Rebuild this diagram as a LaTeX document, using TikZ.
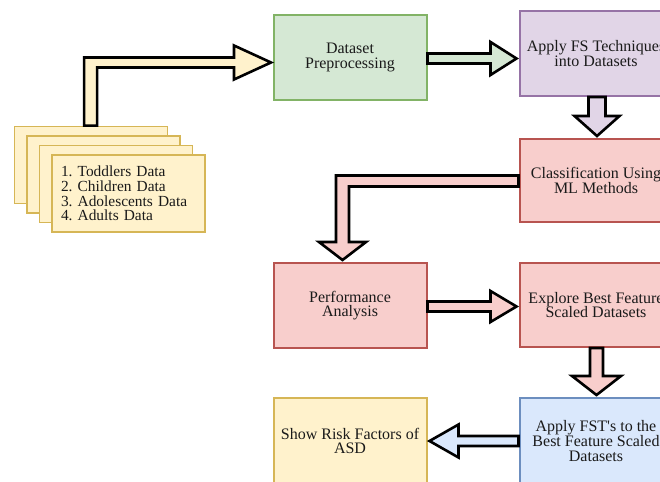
\documentclass[tikz,border=0pt]{standalone}
\usepackage{fontspec}
\setmainfont{Liberation Serif}
\usepackage{xcolor}
\usepackage{tikz}
\usetikzlibrary{shapes,arrows.meta,positioning,calc}
\frenchspacing

\definecolor{grnfill}{HTML}{D5E8D4}
\definecolor{grnline}{HTML}{82B366}
\definecolor{purfill}{HTML}{E1D5E7}
\definecolor{purline}{HTML}{9673A6}
\definecolor{redfill}{HTML}{F8CECC}
\definecolor{redline}{HTML}{B85450}
\definecolor{blufill}{HTML}{DAE8FC}
\definecolor{bluline}{HTML}{6C8EBF}
\definecolor{yelfill}{HTML}{FFF2CC}
\definecolor{yelline}{HTML}{D6B656}
\definecolor{txt}{HTML}{1A1A1A}

% block arrows: [shaft half width]{fill}{tail}{tip}{head length}{head half width}
\newcommand{\fath}[6][5]{%
  \draw[fat, fill=#2] ($(#3)+(0,-#1)$) -- ($(#4)+({-(#5)},-#1)$) -- ($(#4)+({-(#5)},{-(#6)})$) -- (#4)
    -- ($(#4)+({-(#5)},#6)$) -- ($(#4)+({-(#5)},#1)$) -- ($(#3)+(0,#1)$) -- cycle;}
\newcommand{\fatv}[6][6.5]{%
  \draw[fat, fill=#2] ($(#3)+(-#1,0)$) -- ($(#4)+(-#1,{-(#5)})$) -- ($(#4)+({-(#6)},{-(#5)})$) -- (#4)
    -- ($(#4)+(#6,{-(#5)})$) -- ($(#4)+(#1,{-(#5)})$) -- ($(#3)+(#1,0)$) -- cycle;}

\begin{document}
\begin{tikzpicture}[x=1pt, y=-1pt,
    box/.style={draw, line width=2pt, minimum width=153pt, minimum height=85pt, inner sep=2pt,
        align=center, text=txt, font=\fontsize{16}{14.7}\selectfont},
    doc/.style={draw=yelline, fill=yelfill, line width=1.8pt, minimum width=153pt, minimum height=77pt,
        text=txt, font=\fontsize{15.4}{14.6}\selectfont},
    fat/.style={draw=black, line width=2.6pt, line join=miter}]
    \useasboundingbox (0,0) rectangle (660,481);
    \clip (0,0) rectangle (660,481);

    % process boxes
    \node[box, draw=grnline, fill=grnfill] (prep) at (350,57.5) {Dataset\\Preprocessing};
    \node[box, draw=purline, fill=purfill] (fs) at (596,53.5) {Apply FS Techniques\\into Datasets};
    \node[box, draw=redline, fill=redfill, minimum height=83pt] (cls) at (596,180.5) {Classification Using\\ML Methods};
    \node[box, draw=redline, fill=redfill] (perf) at (350,305.5) {Performance\\Analysis};
    \node[box, draw=redline, fill=redfill, minimum height=84pt] (expl) at (596,305) {Explore Best Feature\\Scaled Datasets};
    \node[box, draw=bluline, fill=blufill, minimum height=86pt] (fst) at (596,441) {Apply FST\textquotesingle s to the\\Best Feature Scaled\\Datasets};
    \node[box, draw=yelline, fill=yelfill, minimum height=86pt] (risk) at (350,441) {Show Risk Factors of\\ASD};

    % stacked data sheets
    \coordinate (dc) at (128.5,193.5);
    \foreach \i in {3,2,1} {
        \node[doc] (data\i) at ($(dc)+({-12.5*\i},{-9.5*\i})$) {};
    }
    \node[doc, text width=135pt, align=left, inner xsep=9pt, inner ysep=3pt] (data) at (dc)
        {1. Toddlers Data\\2. Children Data\\3. Adolescents Data\\4. Adults Data};

    % data -> preprocessing
    \coordinate (s1) at ($(data3.north west)+(77,0)$);
    \coordinate (t1) at ($(prep.west)+(-1.5,5)$);
    \draw[fat, fill=yelfill] ($(s1)+(-6.5,0)$) |- ($(t1)+(-37,-5)$) -- ++(0,-12) -- (t1)
        -- ($(t1)+(-37,17)$) -- ++(0,-12) -| ($(s1)+(6.5,0)$) -- cycle;

    % preprocessing -> FS
    \coordinate (a2) at ($(prep.east)+(0,1)$);
    \path (fs.west |- a2) ++(-2,0) coordinate (b2);
    \fath{grnfill}{a2}{b2}{26}{16.5}

    % FS -> classification
    \coordinate (a3) at ($(fs.south)+(1,0)$);
    \path (cls.north -| a3) ++(0,-2) coordinate (b3);
    \fatv[8.5]{purfill}{a3}{b3}{20}{22.5}

    % classification -> performance
    \coordinate (c0) at ($(cls.west)+(0,0.5)$);
    \coordinate (c1) at ($(perf.north)+(-7.5,-2)$);
    \draw[fat, fill=redfill] ($(c0)+(0,-5.5)$) -| ($(c1)+(-6.5,-18)$) -- ++(-17,0) -- (c1)
        -- ($(c1)+(23.5,-18)$) -- ++(-17,0) |- ($(c0)+(0,5.5)$) -- cycle;

    % performance -> explore
    \coordinate (a5) at ($(perf.east)+(0,1)$);
    \path (expl.west |- a5) ++(-2,0) coordinate (b5);
    \fath{redfill}{a5}{b5}{26}{15.5}

    % explore -> FST
    \coordinate (a6) at ($(expl.south)+(0.5,0)$);
    \path (fst.north -| a6) ++(0,-2) coordinate (b6);
    \fatv{redfill}{a6}{b6}{19}{24.5}

    % FST -> risk factors
    \coordinate (a7) at (fst.west);
    \path (risk.east |- a7) ++(2,0) coordinate (b7);
    \fath{blufill}{a7}{b7}{-29}{16.5}
\end{tikzpicture}
\end{document}
